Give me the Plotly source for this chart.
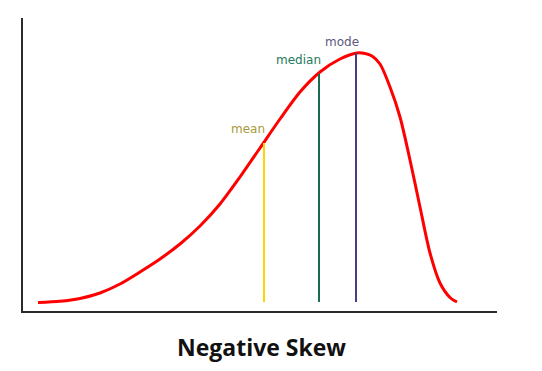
import plotly.graph_objects as go

# Curve (chart units: x to the right of y-axis, y above x-axis)
curve_x = [15, 37, 57, 77, 97, 117, 137, 157, 177, 197, 217, 237, 257, 277, 297, 317, 334, 342, 349, 357, 367, 377, 387, 397, 407, 417, 427, 434]
curve_y = [8.5, 9.7, 12.5, 18, 27, 39, 52, 67, 85, 107, 134, 163, 192, 219, 239, 252, 258, 257.5, 255, 247, 224, 194, 151, 104, 58, 28, 13.5, 9]

# Central tendency markers
stat_names = ["mean", "median", "mode"]
stat_x = [241, 296, 333]
stat_top = [168, 237, 258]
stat_base = [9, 9, 9]
label_x = [225, 275, 319]
label_y = [182, 251, 269]
line_colors = ["#FFD400", "#1B6B50", "#4A3F86"]
text_colors = ["#A69A3A", "#1E7A5C", "#5C587F"]

title_text = "Negative Skew"

fig = go.Figure()
fig.add_trace(go.Scatter(x=curve_x, y=curve_y, mode="lines",
                         line=dict(color="#FF0000", width=3, shape="spline", smoothing=0.8),
                         hoverinfo="skip", showlegend=False))
for name, sx, top, base, c in zip(stat_names, stat_x, stat_top, stat_base, line_colors):
    fig.add_trace(go.Scatter(x=[sx, sx], y=[base, top], mode="lines",
                             line=dict(color=c, width=2), showlegend=False, name=name))

for name, lx, ly, tc in zip(stat_names, label_x, label_y, text_colors):
    fig.add_annotation(x=lx, y=ly, text=name, showarrow=False, xref="x", yref="y",
                       font=dict(family="DejaVu Sans", size=12, color=tc))

fig.add_annotation(x=0.504, y=-0.123, xref="paper", yref="paper", text="<b>" + title_text + "</b>",
                   showarrow=False, yanchor="middle",
                   font=dict(family="Open Sans", size=23, color="#111111"))

axis_common = dict(showgrid=False, zeroline=False, showticklabels=False, ticks="",
                   showline=True, linecolor="#2B2B2B", linewidth=2)
fig.update_xaxes(range=[0, 474], **axis_common)
fig.update_yaxes(range=[0, 293], **axis_common)
fig.update_layout(width=542, height=371, margin=dict(l=23, r=45, t=18, b=60),
                  plot_bgcolor="white", paper_bgcolor="white", showlegend=False)
fig.write_html("out.html")
